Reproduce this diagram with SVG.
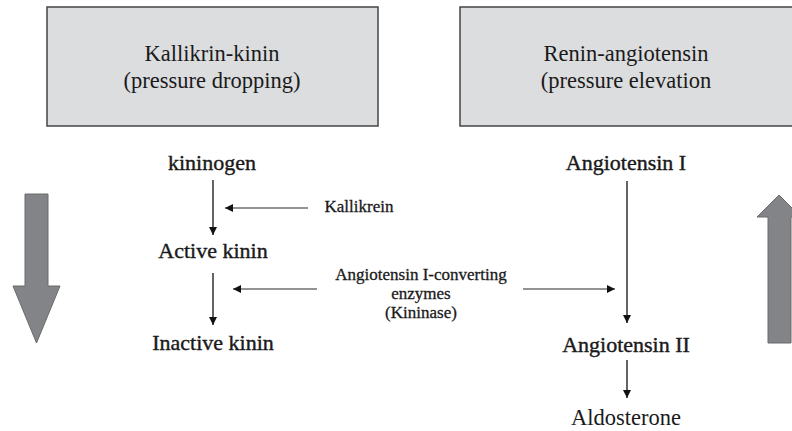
<svg xmlns="http://www.w3.org/2000/svg" width="792" height="431" viewBox="0 0 792 431">
<style>
text{font-family:"Liberation Serif","Times New Roman",serif;fill:#1a1a1a;text-anchor:middle}
.hd{font-size:22.5px}
.nd{font-size:22px;stroke:#1a1a1a;stroke-width:0.4}
.sm{font-size:17px;stroke:#1a1a1a;stroke-width:0.3}
.box{fill:#dcdddf;stroke:#444;stroke-width:1.5}
.big{fill:#838487;stroke:#6a6a6a;stroke-width:1}
.ln{stroke:#111;stroke-width:1.3;fill:none}
.thin{stroke:#111;stroke-width:0.9;fill:none}
</style>
<defs>
<marker id="ah" viewBox="0 0 10 10" refX="10" refY="5" markerWidth="8" markerHeight="8" markerUnits="userSpaceOnUse" orient="auto">
<path d="M0,0L10,5L0,10z" fill="#111"/>
</marker>
</defs>
<rect width="792" height="431" fill="#fff"/>
<g id="kallikrin-box">
<rect class="box" x="47" y="7" width="331" height="119"/>
<text class="hd" x="212" y="61">Kallikrin-kinin</text>
<text class="hd" x="212" y="88">(pressure dropping)</text>
</g>
<g id="renin-box">
<rect class="box" x="460" y="7" width="340" height="119"/>
<text class="hd" x="626" y="61">Renin-angiotensin</text>
<text class="hd" x="626" y="88">(pressure elevation</text>
</g>
<g id="down-arrow">
<path class="big" d="M25,194H48V286H60L36.5,343L13,286H25Z"/>
</g>
<g id="up-arrow">
<path class="big" d="M768,343V217H757L779,195L801,217H791V343Z"/>
</g>
<g id="kininogen"><text class="nd" x="212" y="170">kininogen</text></g>
<g id="active-kinin"><text class="nd" x="213" y="258">Active kinin</text></g>
<g id="inactive-kinin"><text class="nd" x="213" y="350">Inactive kinin</text></g>
<g id="kallikrein"><text class="sm" x="359" y="212">Kallikrein</text></g>
<g id="ace">
<text class="sm" x="421" y="280">Angiotensin  I-converting</text>
<text class="sm" x="421" y="299">enzymes</text>
<text class="sm" x="421" y="318">(Kininase)</text>
</g>
<g id="angiotensin-1"><text class="nd" x="626" y="170">Angiotensin I</text></g>
<g id="angiotensin-2"><text class="nd" x="626" y="352">Angiotensin II</text></g>
<g id="aldosterone"><text class="hd" x="626" y="425">Aldosterone</text></g>
<g id="connectors">
<line class="ln" x1="213" y1="180" x2="213" y2="235" marker-end="url(#ah)"/>
<line class="thin" x1="308" y1="208" x2="225" y2="208" marker-end="url(#ah)"/>
<line class="ln" x1="213" y1="273" x2="213" y2="325" marker-end="url(#ah)"/>
<line class="thin" x1="317" y1="289" x2="233" y2="289" marker-end="url(#ah)"/>
<line class="thin" x1="523" y1="289" x2="615" y2="289" marker-end="url(#ah)"/>
<line class="ln" x1="627" y1="181" x2="627" y2="323" marker-end="url(#ah)"/>
<line class="ln" x1="627" y1="360" x2="627" y2="398" marker-end="url(#ah)"/>
</g>
</svg>
